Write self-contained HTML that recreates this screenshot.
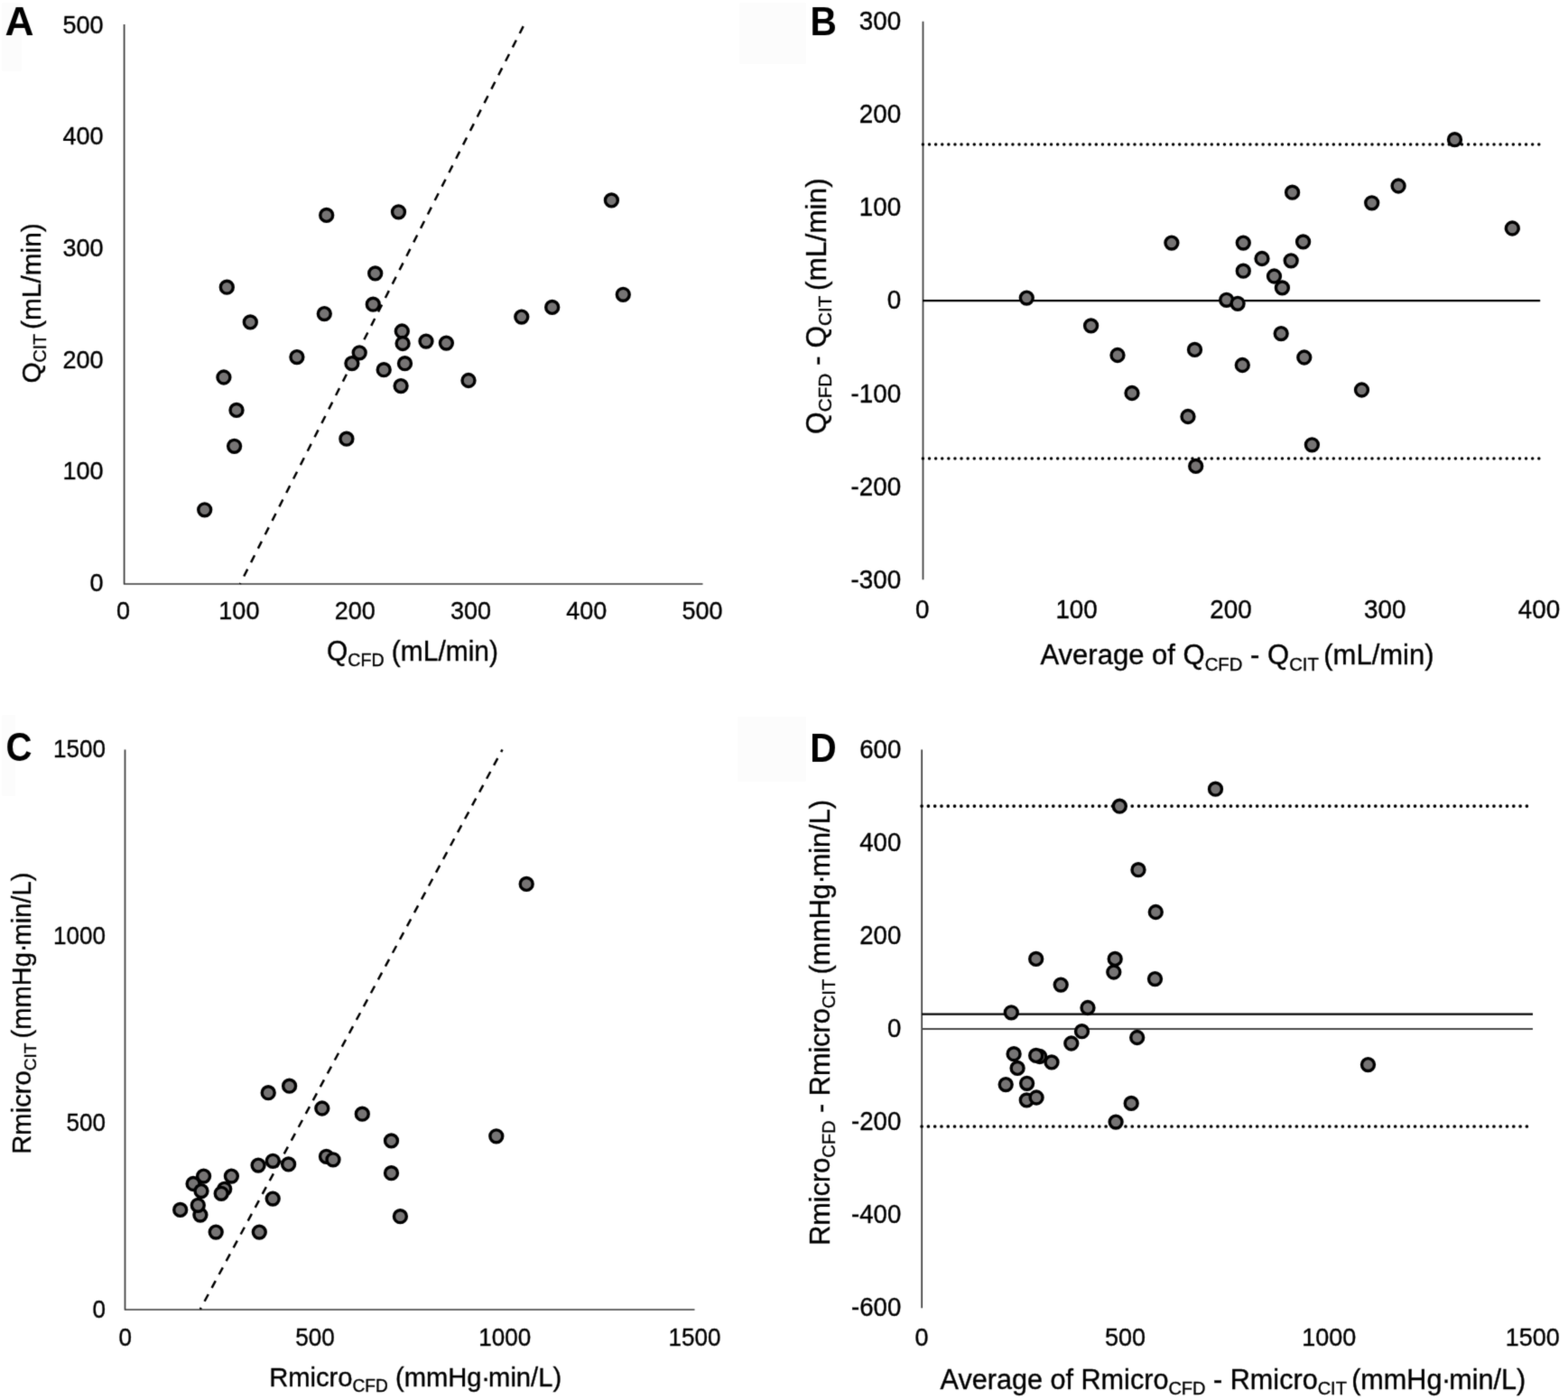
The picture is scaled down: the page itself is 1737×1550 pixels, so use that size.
<!DOCTYPE html>
<html><head><meta charset="utf-8"><title>Figure</title>
<style>
html,body{margin:0;padding:0;background:#fff;}
body{width:1737px;height:1550px;overflow:hidden;}
svg{display:block;}
svg text{font-family:"Liberation Sans", Arial, Helvetica, sans-serif;fill:#000;stroke:#000;stroke-width:0.35px;paint-order:stroke;}
svg text.lt{stroke-width:0;}
</style></head>
<body>
<svg width="1737" height="1550" viewBox="0 0 1737 1550">
<defs><filter id="soft" filterUnits="userSpaceOnUse" x="-8" y="-8" width="1753" height="1566" color-interpolation-filters="sRGB"><feConvolveMatrix order="3" kernelMatrix="0.01917 0.10012 0.01917 0.10012 0.52283 0.10012 0.01917 0.10012 0.01917" divisor="1" edgeMode="duplicate" preserveAlpha="true"/></filter></defs>
<rect width="1737" height="1550" fill="#ffffff"/>
<g filter="url(#soft)">
<rect x="-8" y="-8" width="1753" height="1566" fill="#ffffff"/>
<rect x="2" y="3" width="22" height="76" fill="#fcfcfc"/>
<rect x="819" y="3" width="74" height="68" fill="#fcfcfc"/>
<rect x="2" y="792" width="15" height="90" fill="#fcfcfc"/>
<rect x="817" y="794" width="76" height="72" fill="#fcfcfc"/>
<text id="A_let" class="lt" transform="translate(5.59,38.70) scale(1.0550,1.0350)" font-size="42" font-weight="bold">A</text>
<text x="114.60" y="655.20" font-size="27.00" text-anchor="end">0</text>
<text x="114.60" y="531.48" font-size="27.00" text-anchor="end">100</text>
<text x="114.60" y="407.76" font-size="27.00" text-anchor="end">200</text>
<text x="114.60" y="284.04" font-size="27.00" text-anchor="end">300</text>
<text x="114.60" y="160.32" font-size="27.00" text-anchor="end">400</text>
<text x="114.60" y="36.60" font-size="27.00" text-anchor="end">500</text>
<text x="136.60" y="686.20" font-size="27.00" text-anchor="middle">0</text>
<text x="264.88" y="686.20" font-size="27.00" text-anchor="middle">100</text>
<text x="393.16" y="686.20" font-size="27.00" text-anchor="middle">200</text>
<text x="521.44" y="686.20" font-size="27.00" text-anchor="middle">300</text>
<text x="649.72" y="686.20" font-size="27.00" text-anchor="middle">400</text>
<text x="778.00" y="686.20" font-size="27.00" text-anchor="middle">500</text>
<path d="M137.6,27 L137.6,647 L778.5,647" fill="none" stroke="#383838" stroke-width="1.7" stroke-linejoin="round"/>
<line x1="579.7" y1="29.1" x2="265.9" y2="647" stroke="#000" stroke-width="2.5" stroke-dasharray="8.8 8.5"/>
<text id="A_xt" transform="translate(362.02,731.70) scale(1,1.0300)" font-size="29.93" xml:space="preserve"><tspan font-size="29.93" dy="0.00">Q</tspan><tspan font-size="19.60" dy="5.99">CFD</tspan><tspan font-size="29.93" dy="-5.99"> (mL/min)</tspan></text>
<text id="A_ytl" transform="translate(44.90,424.59) rotate(-90) scale(1,1.0000)" font-size="29.80" xml:space="preserve"><tspan font-size="29.80" dy="0.00">Q</tspan><tspan font-size="19.52" dy="5.96">CIT </tspan><tspan font-size="29.80" dy="-5.96">(mL/min)</tspan></text>
<text id="B_let" class="lt" transform="translate(897.38,38.50) scale(0.9680,1.0350)" font-size="42" font-weight="bold">B</text>
<text transform="translate(998.20,652.20) scale(1.0000,1.0400)" font-size="27.80" text-anchor="end">-300</text>
<text transform="translate(998.20,548.96) scale(1.0000,1.0400)" font-size="27.80" text-anchor="end">-200</text>
<text transform="translate(998.20,445.72) scale(1.0000,1.0400)" font-size="27.80" text-anchor="end">-100</text>
<text transform="translate(998.20,342.48) scale(1.0000,1.0400)" font-size="27.80" text-anchor="end">0</text>
<text transform="translate(998.20,239.24) scale(1.0000,1.0400)" font-size="27.80" text-anchor="end">100</text>
<text transform="translate(998.20,136.00) scale(1.0000,1.0400)" font-size="27.80" text-anchor="end">200</text>
<text transform="translate(998.20,32.76) scale(1.0000,1.0400)" font-size="27.80" text-anchor="end">300</text>
<text transform="translate(1021.80,685.40) scale(1.0000,1.0400)" font-size="27.80" text-anchor="middle">0</text>
<text transform="translate(1192.60,685.40) scale(1.0000,1.0400)" font-size="27.80" text-anchor="middle">100</text>
<text transform="translate(1363.40,685.40) scale(1.0000,1.0400)" font-size="27.80" text-anchor="middle">200</text>
<text transform="translate(1534.20,685.40) scale(1.0000,1.0400)" font-size="27.80" text-anchor="middle">300</text>
<text transform="translate(1705.00,685.40) scale(1.0000,1.0400)" font-size="27.80" text-anchor="middle">400</text>
<line x1="1022.50" y1="23.70" x2="1022.50" y2="642.30" stroke="#383838" stroke-width="1.7" />
<line x1="1022.40" y1="160.00" x2="1705.10" y2="160.00" stroke="#000" stroke-width="3.5" stroke-linecap="round" stroke-dasharray="0 7.1083"/>
<line x1="1022.40" y1="507.90" x2="1705.10" y2="507.90" stroke="#000" stroke-width="3.5" stroke-linecap="round" stroke-dasharray="0 7.1083"/>
<line x1="1022.00" y1="333.20" x2="1706.20" y2="333.20" stroke="#000" stroke-width="2.2" />
<text id="B_xt" transform="translate(1152.39,736.30) scale(1,1.0000)" font-size="31.04" xml:space="preserve"><tspan font-size="31.04" dy="0.00">Average of Q</tspan><tspan font-size="20.33" dy="6.21">CFD</tspan><tspan font-size="31.04" dy="-6.21"> - Q</tspan><tspan font-size="20.33" dy="6.21">CIT </tspan><tspan font-size="31.04" dy="-6.21">(mL/min)</tspan></text>
<text id="B_ytl" transform="translate(914.90,480.93) rotate(-90) scale(1,1.0000)" font-size="31.67" xml:space="preserve"><tspan font-size="31.67" dy="0.00">Q</tspan><tspan font-size="20.74" dy="6.33">CFD</tspan><tspan font-size="31.67" dy="-6.33"> - Q</tspan><tspan font-size="20.74" dy="6.33">CIT </tspan><tspan font-size="31.67" dy="-6.33">(mL/min)</tspan></text>
<text id="C_let" class="lt" transform="translate(6.49,843.20) scale(0.9570,1.0450)" font-size="42" font-weight="bold">C</text>
<text transform="translate(117.00,1460.38) scale(0.9650,1.0300)" font-size="27.00" text-anchor="end">0</text>
<text transform="translate(117.00,1253.25) scale(0.9650,1.0300)" font-size="27.00" text-anchor="end">500</text>
<text transform="translate(117.00,1046.12) scale(0.9650,1.0300)" font-size="27.00" text-anchor="end">1000</text>
<text transform="translate(117.00,838.99) scale(0.9650,1.0300)" font-size="27.00" text-anchor="end">1500</text>
<text transform="translate(138.70,1490.70) scale(0.9650,1.0300)" font-size="27.00" text-anchor="middle">0</text>
<text transform="translate(348.95,1490.70) scale(0.9650,1.0300)" font-size="27.00" text-anchor="middle">500</text>
<text transform="translate(559.20,1490.70) scale(0.9650,1.0300)" font-size="27.00" text-anchor="middle">1000</text>
<text transform="translate(769.45,1490.70) scale(0.9650,1.0300)" font-size="27.00" text-anchor="middle">1500</text>
<path d="M138.5,830.6 L138.5,1451.0 L769.5,1451.0" fill="none" stroke="#383838" stroke-width="1.7" stroke-linejoin="round"/>
<line x1="556.5" y1="830.5" x2="221.8" y2="1450.6" stroke="#000" stroke-width="2.5" stroke-dasharray="8.8 8.07" stroke-dashoffset="5.9"/>
<text id="C_xt" transform="translate(298.13,1536.00) scale(1,1.0300)" font-size="29.20" xml:space="preserve"><tspan font-size="29.20" dy="0.00">Rmicro</tspan><tspan font-size="19.13" dy="5.84">CFD</tspan><tspan font-size="29.20" dy="-5.84"> (mmHg</tspan><tspan dx="-0.39">·</tspan><tspan dx="-1.86">min/L)</tspan></text>
<text id="C_ytl" transform="translate(33.90,1278.70) rotate(-90) scale(1,1.0000)" font-size="29.18" xml:space="preserve"><tspan font-size="29.18" dy="0.00">Rmicro</tspan><tspan font-size="19.11" dy="5.84">CIT </tspan><tspan font-size="29.18" dy="-5.84">(mmHg</tspan><tspan dx="-0.39">·</tspan><tspan dx="-1.86">min/L)</tspan></text>
<text id="D_let" class="lt" transform="translate(897.37,843.50) scale(0.9715,1.0350)" font-size="42" font-weight="bold">D</text>
<text transform="translate(998.30,1458.47) scale(1.0000,1.0500)" font-size="27.60" text-anchor="end">-600</text>
<text transform="translate(998.30,1355.44) scale(1.0000,1.0500)" font-size="27.60" text-anchor="end">-400</text>
<text transform="translate(998.30,1252.41) scale(1.0000,1.0500)" font-size="27.60" text-anchor="end">-200</text>
<text transform="translate(998.30,1149.38) scale(1.0000,1.0500)" font-size="27.60" text-anchor="end">0</text>
<text transform="translate(998.30,1046.35) scale(1.0000,1.0500)" font-size="27.60" text-anchor="end">200</text>
<text transform="translate(998.30,943.32) scale(1.0000,1.0500)" font-size="27.60" text-anchor="end">400</text>
<text transform="translate(998.30,840.29) scale(1.0000,1.0500)" font-size="27.60" text-anchor="end">600</text>
<text transform="translate(1021.00,1491.00) scale(1.0000,1.0500)" font-size="27.00" text-anchor="middle">0</text>
<text transform="translate(1246.60,1491.00) scale(1.0000,1.0500)" font-size="27.00" text-anchor="middle">500</text>
<text transform="translate(1472.20,1491.00) scale(1.0000,1.0500)" font-size="27.00" text-anchor="middle">1000</text>
<text transform="translate(1697.80,1491.00) scale(1.0000,1.0500)" font-size="27.00" text-anchor="middle">1500</text>
<line x1="1021.20" y1="830.50" x2="1021.20" y2="1449.20" stroke="#383838" stroke-width="1.7" />
<line x1="1021.10" y1="893.10" x2="1691.70" y2="893.10" stroke="#000" stroke-width="3.7" stroke-linecap="round" stroke-dasharray="0 7.2859"/>
<line x1="1021.10" y1="1248.00" x2="1691.70" y2="1248.00" stroke="#000" stroke-width="3.7" stroke-linecap="round" stroke-dasharray="0 7.2859"/>
<line x1="1021.20" y1="1140.00" x2="1698.00" y2="1140.00" stroke="#4a4a4a" stroke-width="2.0" />
<line x1="1021.20" y1="1123.60" x2="1698.00" y2="1123.60" stroke="#000" stroke-width="2.4" />
<text id="D_xt" transform="translate(1041.61,1538.60) scale(1,1.0000)" font-size="30.60" xml:space="preserve"><tspan font-size="30.60" dy="0.00">Average of Rmicro</tspan><tspan font-size="20.04" dy="6.12">CFD</tspan><tspan font-size="30.60" dy="-6.12"> - Rmicro</tspan><tspan font-size="20.04" dy="6.12">CIT </tspan><tspan font-size="30.60" dy="-6.12">(mmHg</tspan><tspan dx="-0.41">·</tspan><tspan dx="-1.95">min/L)</tspan></text>
<text id="D_ytl" transform="translate(918.90,1379.84) rotate(-90) scale(1,1.0000)" font-size="30.67" xml:space="preserve"><tspan font-size="30.67" dy="0.00">Rmicro</tspan><tspan font-size="20.09" dy="6.13">CFD</tspan><tspan font-size="30.67" dy="-6.13"> - Rmicro</tspan><tspan font-size="20.09" dy="6.13">CIT </tspan><tspan font-size="30.67" dy="-6.13">(mmHg</tspan><tspan dx="-0.41">·</tspan><tspan dx="-1.96">min/L)</tspan></text>
<g fill="#767474" stroke="#000" stroke-width="3.4">
<circle cx="677.4" cy="221.9" r="6.95"/>
<circle cx="441.5" cy="234.8" r="6.95"/>
<circle cx="361.7" cy="238.4" r="6.95"/>
<circle cx="415.7" cy="302.9" r="6.95"/>
<circle cx="251.3" cy="318.2" r="6.95"/>
<circle cx="690.3" cy="326.3" r="6.95"/>
<circle cx="413.3" cy="337.2" r="6.95"/>
<circle cx="611.7" cy="340.4" r="6.95"/>
<circle cx="359.3" cy="347.6" r="6.95"/>
<circle cx="577.8" cy="351.1" r="6.95"/>
<circle cx="277.3" cy="356.9" r="6.95"/>
<circle cx="445.3" cy="367.0" r="6.95"/>
<circle cx="472.0" cy="378.1" r="6.95"/>
<circle cx="494.4" cy="380.1" r="6.95"/>
<circle cx="446.1" cy="380.5" r="6.95"/>
<circle cx="398.2" cy="390.8" r="6.95"/>
<circle cx="328.9" cy="395.6" r="6.95"/>
<circle cx="389.9" cy="402.6" r="6.95"/>
<circle cx="448.5" cy="402.7" r="6.95"/>
<circle cx="425.2" cy="409.7" r="6.95"/>
<circle cx="247.9" cy="418.0" r="6.95"/>
<circle cx="519.0" cy="421.5" r="6.95"/>
<circle cx="444.1" cy="427.6" r="6.95"/>
<circle cx="262.0" cy="454.4" r="6.95"/>
<circle cx="383.9" cy="486.2" r="6.95"/>
<circle cx="259.6" cy="494.3" r="6.95"/>
<circle cx="226.7" cy="564.8" r="6.95"/>
<circle cx="1611.5" cy="154.7" r="6.95"/>
<circle cx="1549.1" cy="206.0" r="6.95"/>
<circle cx="1431.6" cy="213.2" r="6.95"/>
<circle cx="1519.7" cy="224.8" r="6.95"/>
<circle cx="1675.3" cy="253.0" r="6.95"/>
<circle cx="1443.6" cy="267.9" r="6.95"/>
<circle cx="1297.9" cy="269.1" r="6.95"/>
<circle cx="1377.3" cy="269.1" r="6.95"/>
<circle cx="1398.0" cy="286.5" r="6.95"/>
<circle cx="1430.2" cy="288.8" r="6.95"/>
<circle cx="1377.3" cy="300.2" r="6.95"/>
<circle cx="1411.5" cy="306.0" r="6.95"/>
<circle cx="1420.4" cy="318.9" r="6.95"/>
<circle cx="1137.3" cy="330.1" r="6.95"/>
<circle cx="1358.7" cy="332.3" r="6.95"/>
<circle cx="1371.1" cy="336.3" r="6.95"/>
<circle cx="1208.6" cy="360.9" r="6.95"/>
<circle cx="1419.2" cy="369.6" r="6.95"/>
<circle cx="1323.5" cy="387.4" r="6.95"/>
<circle cx="1238.0" cy="393.5" r="6.95"/>
<circle cx="1444.8" cy="396.0" r="6.95"/>
<circle cx="1376.3" cy="404.5" r="6.95"/>
<circle cx="1508.5" cy="432.0" r="6.95"/>
<circle cx="1254.0" cy="435.5" r="6.95"/>
<circle cx="1316.0" cy="461.5" r="6.95"/>
<circle cx="1453.4" cy="492.8" r="6.95"/>
<circle cx="1324.7" cy="516.4" r="6.95"/>
<circle cx="583.2" cy="979.4" r="6.95"/>
<circle cx="320.6" cy="1203.2" r="6.95"/>
<circle cx="297.2" cy="1210.7" r="6.95"/>
<circle cx="356.8" cy="1228.0" r="6.95"/>
<circle cx="401.3" cy="1234.2" r="6.95"/>
<circle cx="549.8" cy="1258.8" r="6.95"/>
<circle cx="433.5" cy="1263.9" r="6.95"/>
<circle cx="361.5" cy="1281.3" r="6.95"/>
<circle cx="369.0" cy="1284.8" r="6.95"/>
<circle cx="302.3" cy="1286.3" r="6.95"/>
<circle cx="319.6" cy="1289.9" r="6.95"/>
<circle cx="286.1" cy="1291.1" r="6.95"/>
<circle cx="433.5" cy="1299.7" r="6.95"/>
<circle cx="225.6" cy="1303.1" r="6.95"/>
<circle cx="256.4" cy="1303.1" r="6.95"/>
<circle cx="214.1" cy="1311.5" r="6.95"/>
<circle cx="248.7" cy="1317.3" r="6.95"/>
<circle cx="223.0" cy="1319.6" r="6.95"/>
<circle cx="245.2" cy="1322.3" r="6.95"/>
<circle cx="302.2" cy="1328.1" r="6.95"/>
<circle cx="221.9" cy="1346.1" r="6.95"/>
<circle cx="219.3" cy="1335.3" r="6.95"/>
<circle cx="199.7" cy="1340.4" r="6.95"/>
<circle cx="443.4" cy="1347.7" r="6.95"/>
<circle cx="239.2" cy="1365.1" r="6.95"/>
<circle cx="287.3" cy="1365.1" r="6.95"/>
<circle cx="1346.5" cy="874.2" r="6.95"/>
<circle cx="1240.3" cy="893.2" r="6.95"/>
<circle cx="1261.0" cy="963.7" r="6.95"/>
<circle cx="1280.3" cy="1010.5" r="6.95"/>
<circle cx="1147.7" cy="1062.4" r="6.95"/>
<circle cx="1235.2" cy="1062.4" r="6.95"/>
<circle cx="1233.8" cy="1077.0" r="6.95"/>
<circle cx="1279.5" cy="1084.6" r="6.95"/>
<circle cx="1175.2" cy="1091.1" r="6.95"/>
<circle cx="1205.0" cy="1116.5" r="6.95"/>
<circle cx="1120.3" cy="1121.8" r="6.95"/>
<circle cx="1198.5" cy="1142.7" r="6.95"/>
<circle cx="1259.7" cy="1149.5" r="6.95"/>
<circle cx="1186.8" cy="1156.0" r="6.95"/>
<circle cx="1123.1" cy="1167.7" r="6.95"/>
<circle cx="1151.8" cy="1170.5" r="6.95"/>
<circle cx="1147.7" cy="1169.4" r="6.95"/>
<circle cx="1165.0" cy="1176.9" r="6.95"/>
<circle cx="1127.1" cy="1183.4" r="6.95"/>
<circle cx="1137.6" cy="1200.3" r="6.95"/>
<circle cx="1114.2" cy="1201.6" r="6.95"/>
<circle cx="1137.3" cy="1218.9" r="6.95"/>
<circle cx="1148.1" cy="1216.0" r="6.95"/>
<circle cx="1253.2" cy="1222.4" r="6.95"/>
<circle cx="1236.1" cy="1243.1" r="6.95"/>
<circle cx="1515.5" cy="1179.6" r="6.95"/>
</g>
</g>
</svg>
</body></html>
